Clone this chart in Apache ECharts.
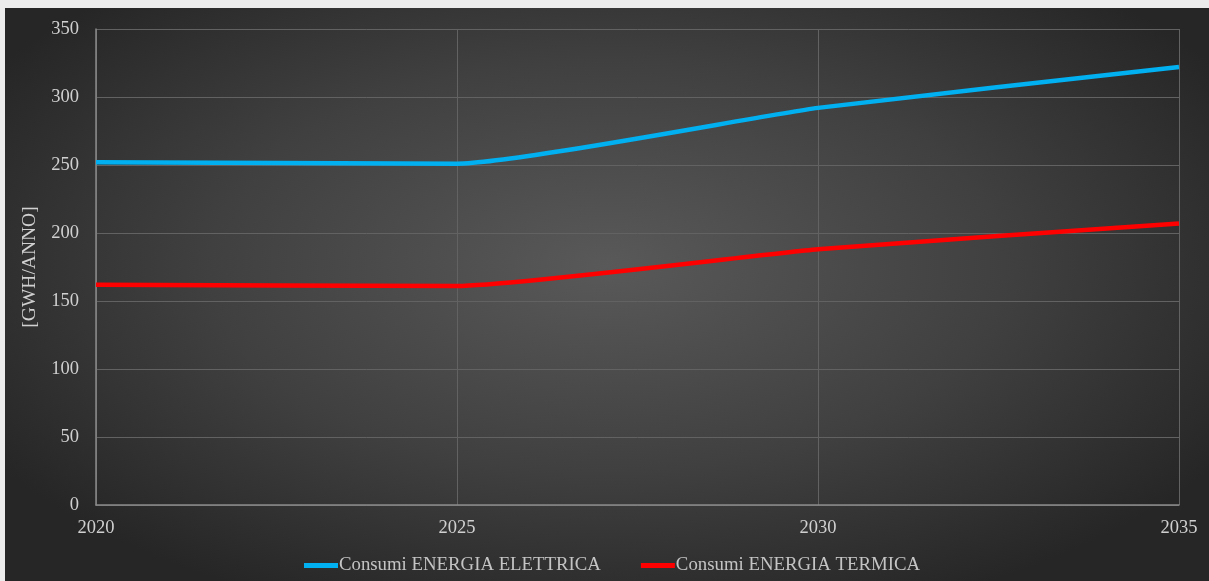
<!DOCTYPE html>
<html>
<head>
<meta charset="utf-8">
<script src="https://cdn.jsdelivr.net/npm/echarts@6/dist/echarts.min.js"></script>
<style>
  html, body { margin: 0; padding: 0; background: #ececec; width: 1209px; height: 581px; overflow: hidden; }
  #chart {
    position: absolute; left: 5px; top: 8px; width: 1204px; height: 573px;
    background: radial-gradient(ellipse 60% 65% at 50% 45%, #595959 0%, #404040 55%, #262626 100%);
  }
</style>
</head>
<body>
<div id="chart"></div>
<script>
// Years on the horizontal axis
const years = ['2020', '2025', '2030', '2035'];
// Annual consumption, GWh/year
const elettrica = [252, 251, 292, 322];
const termica = [162, 161, 188, 207];
// Vertical axis ticks
const yMin = 0, yMax = 350, yStep = 50;

const serif = '"Liberation Serif", "Times New Roman", serif';
const chart = echarts.init(document.getElementById('chart'));
chart.setOption({
  backgroundColor: 'transparent',
  animation: false,
  grid: { left: 91, right: 30, top: 21, bottom: 76 },
  legend: {
    bottom: 1,
    left: 294,
    icon: 'rect',
    itemWidth: 34,
    itemHeight: 5,
    itemGap: 40,
    textStyle: { color: '#c4c4c4', fontFamily: serif, fontSize: 18.8, padding: [0, 0, 0, -4] },
    data: ['Consumi ENERGIA ELETTRICA', 'Consumi ENERGIA TERMICA']
  },
  xAxis: {
    type: 'category',
    data: years,
    boundaryGap: false,
    axisLine: { lineStyle: { color: '#8a8a8a', width: 1.5 } },
    axisTick: { show: false },
    axisLabel: { color: '#d0d0d0', fontFamily: serif, fontSize: 18.5, margin: 14 },
    splitLine: { show: true, lineStyle: { color: '#626262', width: 1 } }
  },
  yAxis: {
    type: 'value',
    min: yMin, max: yMax, interval: yStep,
    name: '[GWH/ANNO]',
    nameLocation: 'middle',
    nameGap: 50,
    nameTextStyle: { color: '#d0d0d0', fontFamily: serif, fontSize: 19.5 },
    axisLine: { show: true, lineStyle: { color: '#8a8a8a', width: 1.5 } },
    axisTick: { show: false },
    axisLabel: { color: '#d0d0d0', fontFamily: serif, fontSize: 18.5, margin: 17 },
    splitLine: { lineStyle: { color: '#626262', width: 1 } }
  },
  series: [
    {
      name: 'Consumi ENERGIA ELETTRICA',
      type: 'line',
      data: elettrica,
      smooth: 0.15,
      showSymbol: false,
      symbol: 'none',
      itemStyle: { color: '#00b0f0' },
      lineStyle: { color: '#00b0f0', width: 4.5 }
    },
    {
      name: 'Consumi ENERGIA TERMICA',
      type: 'line',
      data: termica,
      smooth: 0.15,
      showSymbol: false,
      symbol: 'none',
      itemStyle: { color: '#ff0000' },
      lineStyle: { color: '#ff0000', width: 4.5 }
    }
  ]
});
</script>
</body>
</html>
